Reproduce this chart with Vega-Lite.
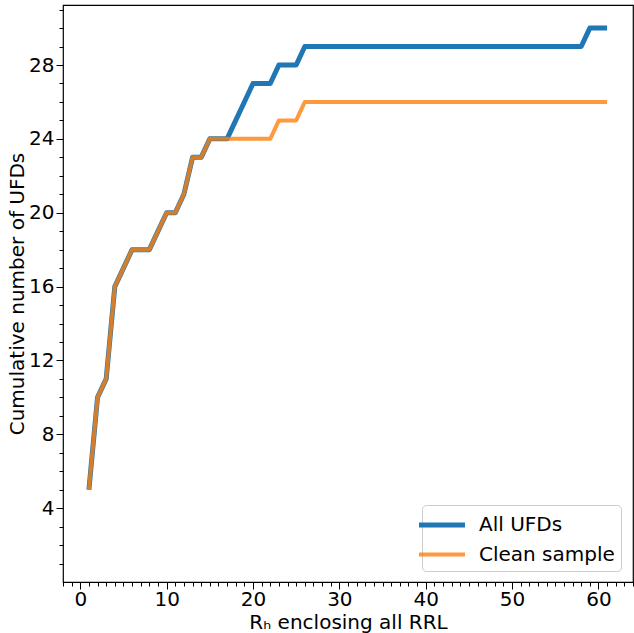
{
  "$schema": "https://vega.github.io/schema/vega-lite/v6.json",
  "width": 570,
  "height": 577,
  "autosize": {"type": "none"},
  "padding": {"left": 63, "top": 5, "right": 1, "bottom": 51},
  "background": "white",
  "config": {
    "view": {"stroke": "black", "strokeWidth": 1.2},
    "font": "DejaVu Sans",
    "axis": {"domain": false, "grid": false, "tickColor": "black", "tickWidth": 1, "labelColor": "black", "titleColor": "black", "labelFont": "DejaVu Sans", "titleFont": "DejaVu Sans", "labelFontSize": 20, "titleFontSize": 20, "titleFontWeight": "normal"}
  },
  "data": {
    "values": [
      {"r": 1, "n": 5, "series": "All UFDs"},
      {"r": 2, "n": 10, "series": "All UFDs"},
      {"r": 3, "n": 11, "series": "All UFDs"},
      {"r": 4, "n": 16, "series": "All UFDs"},
      {"r": 5, "n": 17, "series": "All UFDs"},
      {"r": 6, "n": 18, "series": "All UFDs"},
      {"r": 7, "n": 18, "series": "All UFDs"},
      {"r": 8, "n": 18, "series": "All UFDs"},
      {"r": 9, "n": 19, "series": "All UFDs"},
      {"r": 10, "n": 20, "series": "All UFDs"},
      {"r": 11, "n": 20, "series": "All UFDs"},
      {"r": 12, "n": 21, "series": "All UFDs"},
      {"r": 13, "n": 23, "series": "All UFDs"},
      {"r": 14, "n": 23, "series": "All UFDs"},
      {"r": 15, "n": 24, "series": "All UFDs"},
      {"r": 16, "n": 24, "series": "All UFDs"},
      {"r": 17, "n": 24, "series": "All UFDs"},
      {"r": 18, "n": 25, "series": "All UFDs"},
      {"r": 19, "n": 26, "series": "All UFDs"},
      {"r": 20, "n": 27, "series": "All UFDs"},
      {"r": 21, "n": 27, "series": "All UFDs"},
      {"r": 22, "n": 27, "series": "All UFDs"},
      {"r": 23, "n": 28, "series": "All UFDs"},
      {"r": 24, "n": 28, "series": "All UFDs"},
      {"r": 25, "n": 28, "series": "All UFDs"},
      {"r": 26, "n": 29, "series": "All UFDs"},
      {"r": 27, "n": 29, "series": "All UFDs"},
      {"r": 28, "n": 29, "series": "All UFDs"},
      {"r": 29, "n": 29, "series": "All UFDs"},
      {"r": 30, "n": 29, "series": "All UFDs"},
      {"r": 31, "n": 29, "series": "All UFDs"},
      {"r": 32, "n": 29, "series": "All UFDs"},
      {"r": 33, "n": 29, "series": "All UFDs"},
      {"r": 34, "n": 29, "series": "All UFDs"},
      {"r": 35, "n": 29, "series": "All UFDs"},
      {"r": 36, "n": 29, "series": "All UFDs"},
      {"r": 37, "n": 29, "series": "All UFDs"},
      {"r": 38, "n": 29, "series": "All UFDs"},
      {"r": 39, "n": 29, "series": "All UFDs"},
      {"r": 40, "n": 29, "series": "All UFDs"},
      {"r": 41, "n": 29, "series": "All UFDs"},
      {"r": 42, "n": 29, "series": "All UFDs"},
      {"r": 43, "n": 29, "series": "All UFDs"},
      {"r": 44, "n": 29, "series": "All UFDs"},
      {"r": 45, "n": 29, "series": "All UFDs"},
      {"r": 46, "n": 29, "series": "All UFDs"},
      {"r": 47, "n": 29, "series": "All UFDs"},
      {"r": 48, "n": 29, "series": "All UFDs"},
      {"r": 49, "n": 29, "series": "All UFDs"},
      {"r": 50, "n": 29, "series": "All UFDs"},
      {"r": 51, "n": 29, "series": "All UFDs"},
      {"r": 52, "n": 29, "series": "All UFDs"},
      {"r": 53, "n": 29, "series": "All UFDs"},
      {"r": 54, "n": 29, "series": "All UFDs"},
      {"r": 55, "n": 29, "series": "All UFDs"},
      {"r": 56, "n": 29, "series": "All UFDs"},
      {"r": 57, "n": 29, "series": "All UFDs"},
      {"r": 58, "n": 29, "series": "All UFDs"},
      {"r": 59, "n": 30, "series": "All UFDs"},
      {"r": 60, "n": 30, "series": "All UFDs"},
      {"r": 61, "n": 30, "series": "All UFDs"},
      {"r": 1, "n": 5, "series": "Clean sample"},
      {"r": 2, "n": 10, "series": "Clean sample"},
      {"r": 3, "n": 11, "series": "Clean sample"},
      {"r": 4, "n": 16, "series": "Clean sample"},
      {"r": 5, "n": 17, "series": "Clean sample"},
      {"r": 6, "n": 18, "series": "Clean sample"},
      {"r": 7, "n": 18, "series": "Clean sample"},
      {"r": 8, "n": 18, "series": "Clean sample"},
      {"r": 9, "n": 19, "series": "Clean sample"},
      {"r": 10, "n": 20, "series": "Clean sample"},
      {"r": 11, "n": 20, "series": "Clean sample"},
      {"r": 12, "n": 21, "series": "Clean sample"},
      {"r": 13, "n": 23, "series": "Clean sample"},
      {"r": 14, "n": 23, "series": "Clean sample"},
      {"r": 15, "n": 24, "series": "Clean sample"},
      {"r": 16, "n": 24, "series": "Clean sample"},
      {"r": 17, "n": 24, "series": "Clean sample"},
      {"r": 18, "n": 24, "series": "Clean sample"},
      {"r": 19, "n": 24, "series": "Clean sample"},
      {"r": 20, "n": 24, "series": "Clean sample"},
      {"r": 21, "n": 24, "series": "Clean sample"},
      {"r": 22, "n": 24, "series": "Clean sample"},
      {"r": 23, "n": 25, "series": "Clean sample"},
      {"r": 24, "n": 25, "series": "Clean sample"},
      {"r": 25, "n": 25, "series": "Clean sample"},
      {"r": 26, "n": 26, "series": "Clean sample"},
      {"r": 27, "n": 26, "series": "Clean sample"},
      {"r": 28, "n": 26, "series": "Clean sample"},
      {"r": 29, "n": 26, "series": "Clean sample"},
      {"r": 30, "n": 26, "series": "Clean sample"},
      {"r": 31, "n": 26, "series": "Clean sample"},
      {"r": 32, "n": 26, "series": "Clean sample"},
      {"r": 33, "n": 26, "series": "Clean sample"},
      {"r": 34, "n": 26, "series": "Clean sample"},
      {"r": 35, "n": 26, "series": "Clean sample"},
      {"r": 36, "n": 26, "series": "Clean sample"},
      {"r": 37, "n": 26, "series": "Clean sample"},
      {"r": 38, "n": 26, "series": "Clean sample"},
      {"r": 39, "n": 26, "series": "Clean sample"},
      {"r": 40, "n": 26, "series": "Clean sample"},
      {"r": 41, "n": 26, "series": "Clean sample"},
      {"r": 42, "n": 26, "series": "Clean sample"},
      {"r": 43, "n": 26, "series": "Clean sample"},
      {"r": 44, "n": 26, "series": "Clean sample"},
      {"r": 45, "n": 26, "series": "Clean sample"},
      {"r": 46, "n": 26, "series": "Clean sample"},
      {"r": 47, "n": 26, "series": "Clean sample"},
      {"r": 48, "n": 26, "series": "Clean sample"},
      {"r": 49, "n": 26, "series": "Clean sample"},
      {"r": 50, "n": 26, "series": "Clean sample"},
      {"r": 51, "n": 26, "series": "Clean sample"},
      {"r": 52, "n": 26, "series": "Clean sample"},
      {"r": 53, "n": 26, "series": "Clean sample"},
      {"r": 54, "n": 26, "series": "Clean sample"},
      {"r": 55, "n": 26, "series": "Clean sample"},
      {"r": 56, "n": 26, "series": "Clean sample"},
      {"r": 57, "n": 26, "series": "Clean sample"},
      {"r": 58, "n": 26, "series": "Clean sample"},
      {"r": 59, "n": 26, "series": "Clean sample"},
      {"r": 60, "n": 26, "series": "Clean sample"},
      {"r": 61, "n": 26, "series": "Clean sample"}
    ]
  },
  "mark": {"type": "line", "strokeCap": "butt", "strokeJoin": "round", "clip": true},
  "encoding": {
    "x": {
      "field": "r", "type": "quantitative",
      "scale": {"domain": [-2, 64], "nice": false, "zero": false},
      "axis": {
        "title": "Rₕ enclosing all RRL",
        "values": [-2, -1, 0, 1, 2, 3, 4, 5, 6, 7, 8, 9, 10, 11, 12, 13, 14, 15, 16, 17, 18, 19, 20, 21, 22, 23, 24, 25, 26, 27, 28, 29, 30, 31, 32, 33, 34, 35, 36, 37, 38, 39, 40, 41, 42, 43, 44, 45, 46, 47, 48, 49, 50, 51, 52, 53, 54, 55, 56, 57, 58, 59, 60, 61, 62, 63, 64],
        "labelExpr": "datum.value % 10 === 0 ? datum.label : ''",
        "labelFlush": false,
        "labelOverlap": false,
        "tickSize": {"condition": {"test": "datum.value % 10 === 0", "value": 7}, "value": 4},
        "labelPadding": 0,
        "titlePadding": 3
      }
    },
    "y": {
      "field": "n", "type": "quantitative",
      "scale": {"domain": [0, 31.25], "nice": false, "zero": false},
      "axis": {
        "title": "Cumulative number of UFDs",
        "values": [1, 2, 3, 4, 5, 6, 7, 8, 9, 10, 11, 12, 13, 14, 15, 16, 17, 18, 19, 20, 21, 22, 23, 24, 25, 26, 27, 28, 29, 30, 31],
        "labelExpr": "datum.value % 4 === 0 ? datum.label : ''",
        "labelFlush": false,
        "labelOverlap": false,
        "tickSize": {"condition": {"test": "datum.value % 4 === 0", "value": 7}, "value": 4},
        "labelPadding": 2,
        "titlePadding": 1
      }
    },
    "color": {
      "field": "series", "type": "nominal",
      "scale": {"domain": ["All UFDs", "Clean sample"], "range": ["#1f77b4", "#ff7f0e"]},
      "legend": {
        "title": null,
        "orient": "none",
        "legendX": 359,
        "legendY": 500,
        "symbolType": "M-2,0H2",
        "symbolSize": 529,
        "labelFontSize": 20,
        "labelFont": "DejaVu Sans",
        "labelColor": "black",
        "labelOffset": 23,
        "strokeColor": "#cccccc",
        "fillColor": "white",
        "cornerRadius": 4,
        "padding": 6,
        "rowPadding": 6
      }
    },
    "strokeWidth": {
      "field": "series", "type": "nominal",
      "scale": {"domain": ["All UFDs", "Clean sample"], "range": [5, 4]}
    },
    "opacity": {
      "field": "series", "type": "nominal",
      "scale": {"domain": ["All UFDs", "Clean sample"], "range": [1, 0.8]}
    }
  }
}
